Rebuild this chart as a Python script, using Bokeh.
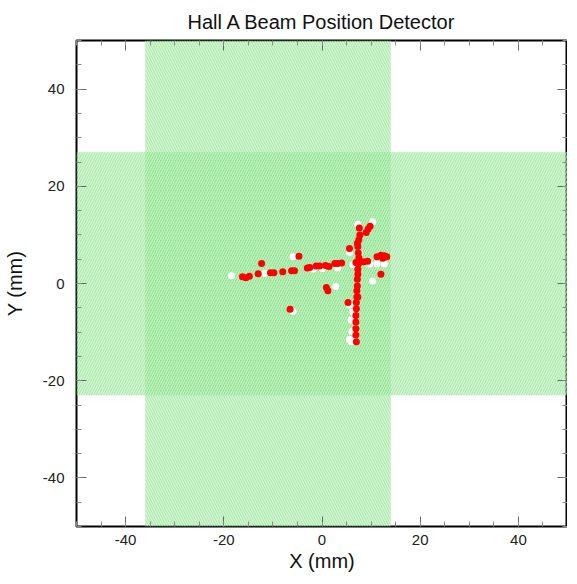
from bokeh.plotting import figure
from bokeh.models import FixedTicker, LinearAxis, Range1d
from bokeh.embed import file_html
from bokeh.resources import INLINE

# axis limits and ticks (mm)
axis_limits = [-50, 50]
major_ticks = [-40, -20, 0, 20, 40]
minor_ticks = list(range(-50, 51, 5))

# detector acceptance regions (mm)
vband_x = [-36, 14]
hband_y = [-23, 27]

# beam positions (red) and reference positions (white)
red_x = [-16.2, -15.5, -14.8, -13.0, -10.5, -9.8, -8.0, -6.2, -5.6, -3.0, -2.5, -1.2, -0.5,
         0.7, 1.4, 2.6, 3.2, 4.0, 6.9, 8.5, 9.3,
         -12.3, -4.7, 5.6, 9.0, 9.4, 9.8, 11.2, 12.0, 12.7, 13.2, 12.4, 12.0,
         0.9, 1.2, 5.3, -6.5,
         7.6, 7.7, 7.5, 7.3, 7.4, 7.5, 7.4, 7.3, 7.3, 7.2, 7.2, 7.1, 7.1, 7.0, 7.0,
         6.9, 6.9, 6.9, 6.9, 7.0, 7.3, 7.2]
red_y = [1.4, 1.2, 1.5, 2.0, 2.2, 2.2, 2.4, 2.6, 2.6, 3.2, 3.3, 3.6, 3.6,
         3.7, 3.5, 4.1, 4.1, 4.2, 4.3, 4.5, 4.6,
         4.1, 5.6, 7.2, 10.5, 11.2, 11.8, 5.5, 5.8, 5.7, 5.5, 5.2, 1.9,
         -0.8, -1.5, -3.9, -5.3,
         11.4, 10.0, 9.0, 7.6, 6.3, 5.3, 4.0, 2.9, 1.9, 0.9, -0.5, -1.5, -2.8, -3.9, -5.2,
         -6.6, -7.9, -9.3, -10.6, -12.0, -2.8, 8.3]
white_x = [-18.4, -11.6, -5.9, -1.8, 0.1, 3.2, 5.6, 6.3, 7.3, 10.3, 9.7, 11.2, 12.7,
           10.3, 2.8, 5.6, -5.9, 6.9, 7.6, 5.9, 6.1, 6.3, 6.0, 5.6]
white_y = [1.6, 2.1, 5.5, 3.0, 3.1, 3.2, 6.4, 3.9, 12.2, 12.7, 4.0, 4.0, 4.0,
           0.5, -0.6, -4.4, -5.7, -11.3, 6.3, -7.5, -9.9, -5.9, -12.0, -11.5]

FONT = "Liberation Sans"

p = figure(width=567, height=574,
           x_range=Range1d(*axis_limits), y_range=Range1d(*axis_limits),
           output_backend="svg", toolbar_location=None,
           title="Hall A Beam Position Detector",
           min_border_left=72, min_border_right=0, min_border_top=10, min_border_bottom=0)

p.title.align = "center"
p.title.text_font = FONT
p.title.text_font_size = "20px"
p.title.text_font_style = "normal"
p.title.text_color = "#111111"
p.title.standoff = 16

green = "#5cd85c"
p.quad(left=vband_x[0], right=vband_x[1], bottom=axis_limits[0], top=axis_limits[1],
       fill_color=green, fill_alpha=0.5, line_color=None,
       hatch_pattern="\\", hatch_color="white", hatch_alpha=0.5, hatch_scale=5, hatch_weight=1.2)
p.quad(left=axis_limits[0], right=axis_limits[1], bottom=hband_y[0], top=hband_y[1],
       fill_color=green, fill_alpha=0.5, line_color=None,
       hatch_pattern="/", hatch_color="white", hatch_alpha=0.5, hatch_scale=5, hatch_weight=1.2)

p.scatter(white_x, white_y, size=7, color="white", line_color=None)
p.scatter(red_x, red_y, size=7, color="#ff0000", line_color=None)

p.xgrid.visible = False
p.ygrid.visible = False
p.outline_line_color = "black"
p.outline_line_width = 2
p.outline_line_alpha = 1

ticker = FixedTicker(ticks=major_ticks, minor_ticks=minor_ticks)
tick_text = {t: str(t) for t in major_ticks}

def style_axis(ax, labels=True):
    ax.ticker = ticker
    ax.major_tick_in = 10
    ax.major_tick_out = 0
    ax.minor_tick_in = 5
    ax.minor_tick_out = 0
    ax.major_tick_line_color = "#666666"
    ax.minor_tick_line_color = "#888888"
    ax.axis_line_color = None
    if labels:
        ax.major_label_overrides = tick_text
        ax.major_label_text_font = FONT
        ax.major_label_text_font_size = "15px"
        ax.major_label_text_color = "#222222"
        ax.axis_label_text_font = FONT
        ax.axis_label_text_font_size = "20px"
        ax.axis_label_text_font_style = "normal"
        ax.axis_label_text_color = "#111111"
    else:
        ax.major_label_text_color = None
        ax.major_label_text_font_size = "1px"
        ax.major_label_standoff = 0
        ax.axis_label_standoff = 0

p.xaxis.axis_label = "X (mm)"
p.yaxis.axis_label = "Y (mm)"
style_axis(p.xaxis[0])
style_axis(p.yaxis[0])
p.xaxis[0].major_label_standoff = 8
p.yaxis[0].major_label_standoff = 12
p.xaxis[0].axis_label_standoff = 2
p.yaxis[0].axis_label_standoff = 14

top_ax = LinearAxis()
right_ax = LinearAxis()
style_axis(top_ax, labels=False)
style_axis(right_ax, labels=False)
p.add_layout(top_ax, "above")
p.add_layout(right_ax, "right")

open("out.html", "w").write(file_html(p, INLINE))
